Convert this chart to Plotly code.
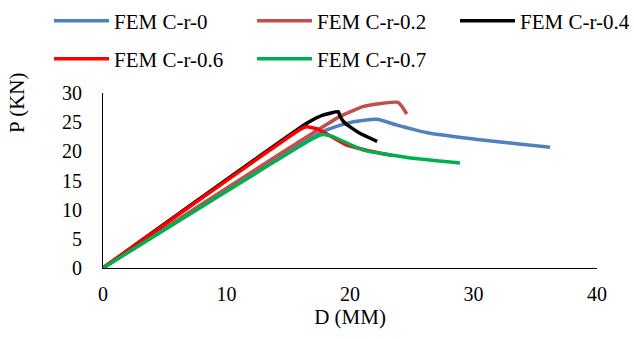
import plotly.graph_objects as go

series_names = ["FEM C-r-0", "FEM C-r-0.2", "FEM C-r-0.4", "FEM C-r-0.6", "FEM C-r-0.7"]

d_cr0 = [0, 17.8, 19.7, 21.0, 22.2, 23.8, 26.5, 30.5, 33.5, 36.2]
p_cr0 = [0, 23.4, 24.8, 25.3, 25.5, 24.5, 23.1, 22.0, 21.3, 20.7]

d_cr02 = [0, 19.2, 21.1, 22.5, 23.9, 24.2, 24.6]
p_cr02 = [0, 26.0, 27.7, 28.2, 28.4, 27.7, 26.4]

d_cr04 = [0, 16.5, 17.8, 19.05, 19.2, 19.6, 20.8, 22.2]
p_cr04 = [0, 24.8, 26.2, 26.8, 26.0, 24.8, 23.1, 21.7]

d_cr06 = [0, 16.0, 16.5, 17.4, 19.7, 21.5, 23.4]
p_cr06 = [0, 23.8, 24.2, 23.8, 21.1, 20.1, 19.3]

d_cr07 = [0, 17.0, 17.8, 18.5, 21.1, 25.1, 28.9]
p_cr07 = [0, 22.2, 22.9, 22.6, 20.2, 18.8, 18.0]

x_ticks = [0, 10, 20, 30, 40]
y_ticks = [0, 5, 10, 15, 20, 25, 30]

colors = ["#4F81BD", "#C0504D", "#000000", "#FF0000", "#00B050"]
legend_ids = ["legend", "legend2", "legend3", "legend4", "legend5"]
# legend grid: (left px, center y px) of each entry
legend_pos = [(49, 21), (252, 21), (455, 21), (49, 59), (252, 59)]

data = [(d_cr0, p_cr0), (d_cr02, p_cr02), (d_cr04, p_cr04), (d_cr06, p_cr06), (d_cr07, p_cr07)]

FONT = "Liberation Serif, Times New Roman, serif"

fig = go.Figure()
for name, (xs, ys), c, lg in zip(series_names, data, colors, legend_ids):
    fig.add_trace(go.Scatter(x=xs, y=ys, mode="lines", name=name,
                             line=dict(color=c, width=3.5, shape="spline", smoothing=0.4),
                             legend=lg))

leg_common = dict(orientation="h", font=dict(family=FONT, size=21, color="#000"),
                  bgcolor="rgba(0,0,0,0)", borderwidth=0,
                  xref="container", yref="container", xanchor="left", yanchor="middle",
                  itemwidth=55)

legends = {}
for lg, (lx, ly) in zip(legend_ids, legend_pos):
    legends[lg] = dict(x=lx / 634, y=1 - ly / 339, **leg_common)

fig.update_layout(
    width=634, height=339,
    margin=dict(l=103, r=37, t=93, b=71, autoexpand=False),
    paper_bgcolor="white", plot_bgcolor="white",
    font=dict(family=FONT, size=20, color="#000"),
    showlegend=True,
    **legends,
    xaxis=dict(range=[0, 40], tickvals=x_ticks, showgrid=False, zeroline=False,
               showline=True, linecolor="#000", linewidth=1.2, ticks="",
               ticklabelstandoff=8,
               tickfont=dict(family=FONT, size=20, color="#000"),
               title=dict(text="D (MM)", font=dict(family=FONT, size=21, color="#000"), standoff=4)),
    yaxis=dict(range=[0, 30], tickvals=y_ticks, showgrid=False, zeroline=False,
               showline=True, linecolor="#000", linewidth=1.2, ticks="",
               ticklabelstandoff=16,
               tickfont=dict(family=FONT, size=20, color="#000")),
    annotations=[dict(text="P (KN)", xref="paper", yref="paper",
                      x=(17 - 103) / 494, y=(268 - 103) / 175, textangle=-90,
                      showarrow=False, xanchor="center", yanchor="middle",
                      font=dict(family=FONT, size=21, color="#000"))],
)

fig.write_html("out.html")
